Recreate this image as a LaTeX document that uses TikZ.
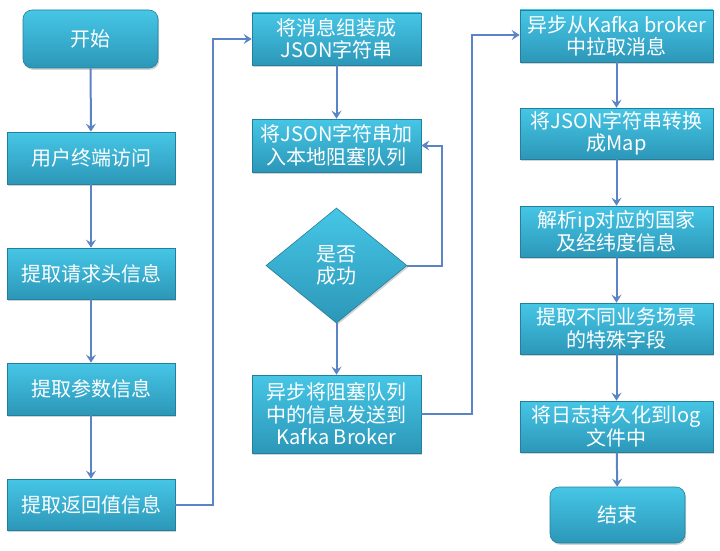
\documentclass[tikz,border=0pt]{standalone}
\usepackage{fontspec}
\setmainfont{Noto Sans CJK SC}
\usetikzlibrary{shapes.geometric,arrows.meta,shadows}
\definecolor{boxtop}{HTML}{46C6E6}
\definecolor{boxbot}{HTML}{2C97B8}
\definecolor{boxedge}{HTML}{22809C}
\definecolor{linecol}{HTML}{5B84C4}
\tikzset{
  base/.style={top color=boxtop, bottom color=boxbot, draw=boxedge, line width=0.6pt,
    text=white, align=center, inner sep=0pt, font=\fontsize{20}{22.5}\selectfont,
    drop shadow={shadow xshift=1.2pt, shadow yshift=-1.8pt, opacity=0.35}},
  procbox/.style={base, rectangle, minimum width=#1},
  procbox/.default=168pt,
  termbox/.style={base, rectangle, rounded corners=9pt, minimum width=135pt},
  decbox/.style={base, diamond, aspect=1.226, minimum width=141pt, minimum height=115pt},
  arr/.style={draw=linecol, line width=2pt, -{Stealth[length=8pt,width=10pt,inset=3pt]}}
}
\begin{document}
\begin{tikzpicture}[x=1pt,y=-1pt]
\useasboundingbox (0,0) rectangle (720,551);
% left column
\node[termbox, minimum height=58pt] (start) at (90.5,39) {开始};
\node[procbox, minimum height=52pt] (n1) at (91,158) {用户终端访问};
\node[procbox, minimum height=51pt] (n2) at (91,273.5) {提取请求头信息};
\node[procbox, minimum height=52pt] (n3) at (91,389) {提取参数信息};
\node[procbox, minimum height=51pt] (n4) at (91,504.5) {提取返回值信息};
% middle column
\node[procbox=169pt, minimum height=52pt] (m1) at (336.5,39) {将消息组装成\\JSON字符串};
\node[procbox=169pt, minimum height=53pt] (m2) at (336.5,145.5) {将JSON字符串加\\入本地阻塞队列};
\node[decbox] (d) at (336.5,265.5) {是否\\成功};
\node[procbox=169pt, minimum height=78pt] (m3) at (336.5,414) {异步将阻塞队列\\中的信息发送到\\Kafka Broker};
% right column
\node[procbox=193pt, minimum height=52pt] (r1) at (616.5,36) {异步从Kafka broker\\中拉取消息};
\node[procbox=193pt, minimum height=51pt] (r2) at (616.5,133.5) {将JSON字符串转换\\成Map};
\node[procbox=193pt, minimum height=51pt] (r3) at (616.5,231.5) {解析ip对应的国家\\及经纬度信息};
\node[procbox=193pt, minimum height=51pt] (r4) at (616.5,328.5) {提取不同业务场景\\的特殊字段};
\node[procbox=193pt, minimum height=51pt] (r5) at (616.5,426.5) {将日志持久化到log\\文件中};
\node[termbox, minimum height=56pt] (end) at (617.5,515) {结束};
% connectors
\draw[arr] (start) -- (n1);
\draw[arr] (n1) -- (n2);
\draw[arr] (n2) -- (n3);
\draw[arr] (n3) -- (n4);
\draw[arr] (n4.east) -- ++(38,0) |- (m1.west);
\draw[arr] (m1) -- (m2);
\draw[arr] (d.east) -- ++(35,0) |- (m2.east);
\draw[arr] (d) -- (m3);
\draw[arr] (m3.east) -- ++(51,0) |- ([yshift=1pt]r1.west);
\draw[arr] (r1) -- (r2);
\draw[arr] (r2) -- (r3);
\draw[arr] (r3) -- (r4);
\draw[arr] (r4) -- (r5);
\draw[arr] (r5) -- (end);
\end{tikzpicture}
\end{document}
